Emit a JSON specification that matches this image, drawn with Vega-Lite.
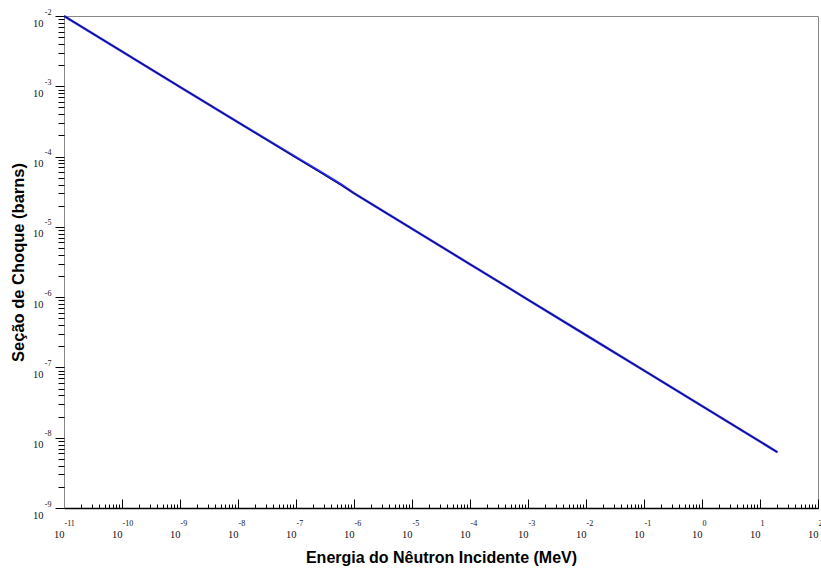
{
  "$schema": "https://vega.github.io/schema/vega-lite/v6.json",
  "autosize": "none",
  "width": 754,
  "height": 492,
  "padding": {"left": 64, "top": 16, "right": 3, "bottom": 65},
  "background": "white",
  "config": {
    "view": {"stroke": "#888888", "strokeWidth": 1},
    "axis": {"grid": false, "labelFont": "Liberation Serif", "titleFont": "Liberation Sans", "labelColor": "#111111", "tickColor": "#000000"}
  },
  "datasets": {
    "blue": [
      {"E": 1e-11, "sigma": 1e-2},
      {"E": 1e-10, "sigma": 3.13e-3},
      {"E": 1e-9, "sigma": 9.79e-4},
      {"E": 1e-8, "sigma": 3.07e-4},
      {"E": 1e-7, "sigma": 9.8e-5},
      {"E": 3e-7, "sigma": 5.7e-5},
      {"E": 6e-7, "sigma": 4.0e-5},
      {"E": 1e-6, "sigma": 3.0e-5},
      {"E": 1e-5, "sigma": 9.4e-6},
      {"E": 1e-4, "sigma": 2.94e-6},
      {"E": 1e-3, "sigma": 9.2e-7},
      {"E": 1e-2, "sigma": 2.88e-7},
      {"E": 1e-1, "sigma": 9.02e-8},
      {"E": 1, "sigma": 2.82e-8},
      {"E": 10, "sigma": 8.83e-9},
      {"E": 20, "sigma": 6.22e-9}
    ],
    "black": [
      {"E": 1e-11, "sigma": 1e-2},
      {"E": 1e-10, "sigma": 3.13e-3},
      {"E": 1e-9, "sigma": 9.79e-4},
      {"E": 1e-8, "sigma": 3.07e-4},
      {"E": 1e-7, "sigma": 9.59e-5},
      {"E": 1e-6, "sigma": 3.0e-5},
      {"E": 1e-5, "sigma": 9.4e-6},
      {"E": 1e-4, "sigma": 2.94e-6},
      {"E": 1e-3, "sigma": 9.2e-7},
      {"E": 1e-2, "sigma": 2.88e-7},
      {"E": 1e-1, "sigma": 9.02e-8},
      {"E": 1, "sigma": 2.82e-8},
      {"E": 10, "sigma": 8.83e-9},
      {"E": 20, "sigma": 6.22e-9}
    ]
  },
  "layer": [
    {
      "data": {"name": "blue"},
      "mark": {"type": "line", "color": "#2a2aff", "strokeWidth": 2.4},
      "encoding": {
        "x": {
          "field": "E", "type": "quantitative",
          "scale": {"type": "log", "domain": [1e-11, 100], "nice": false},
          "axis": {
            "orient": "bottom",
            "values": [1e-11, 1e-10, 1e-9, 1e-8, 1e-7, 1e-6, 1e-5, 1e-4, 1e-3, 1e-2, 1e-1, 1, 10, 100],
            "labelExpr": "'10'",
            "labelAlign": "right", "labelBaseline": "top", "labelDx": -1,
            "labelFontSize": 10.5, "labelPadding": 30, "labelFlush": false, "labelOverlap": false,
            "tickSize": -9, "tickWidth": 1,
            "domainColor": "#000000", "domainWidth": 1.5,
            "title": "Energia do Nêutron Incidente (MeV)",
            "titleFontSize": 16, "titleFontWeight": "bold", "titleColor": "#000000", "titlePadding": 10
          }
        },
        "y": {
          "field": "sigma", "type": "quantitative",
          "scale": {"type": "log", "domain": [1e-9, 1e-2], "nice": false},
          "axis": {
            "orient": "left",
            "values": [1e-9, 1e-8, 1e-7, 1e-6, 1e-5, 1e-4, 1e-3, 1e-2],
            "labelExpr": "'10'",
            "labelAlign": "right", "labelBaseline": "middle", "labelOffset": 7,
            "labelFontSize": 10.5, "labelPadding": 12, "labelFlush": false, "labelOverlap": false,
            "tickSize": 9, "tickWidth": 1,
            "domainColor": "#888888", "domainWidth": 1,
            "title": "Seção de Choque (barns)",
            "titleFontSize": 16.5, "titleFontWeight": "bold", "titleColor": "#000000", "titlePadding": 6
          }
        }
      }
    },
    {
      "data": {"name": "black"},
      "mark": {"type": "line", "color": "#000020", "strokeWidth": 1, "opacity": 0.75},
      "encoding": {
        "x": {
          "field": "E", "type": "quantitative",
          "scale": {"type": "log", "domain": [1e-11, 100], "nice": false},
          "axis": {"orient": "bottom", "tickCount": 50, "labels": false, "domain": false, "tickSize": -4, "title": null}
        },
        "y": {
          "field": "sigma", "type": "quantitative",
          "scale": {"type": "log", "domain": [1e-9, 1e-2], "nice": false},
          "axis": {"orient": "left", "tickCount": 50, "labels": false, "domain": false, "tickSize": 6, "title": null}
        }
      }
    },
    {
      "data": {"name": "black"},
      "mark": {"type": "line", "opacity": 0},
      "encoding": {
        "x": {
          "field": "E", "type": "quantitative",
          "scale": {"type": "log", "domain": [1e-11, 100], "nice": false},
          "axis": {
            "orient": "bottom",
            "values": [1e-11, 1e-10, 1e-9, 1e-8, 1e-7, 1e-6, 1e-5, 1e-4, 1e-3, 1e-2, 1e-1, 1, 10, 100],
            "labelExpr": "'' + round(log(datum.value) / LN10)",
            "labelAlign": "left", "labelBaseline": "top",
            "labelFontSize": 8, "labelPadding": 11, "labelFlush": false, "labelOverlap": false,
            "ticks": false, "tickSize": 0, "domain": false, "title": null
          }
        },
        "y": {
          "field": "sigma", "type": "quantitative",
          "scale": {"type": "log", "domain": [1e-9, 1e-2], "nice": false},
          "axis": {
            "orient": "left",
            "values": [1e-9, 1e-8, 1e-7, 1e-6, 1e-5, 1e-4, 1e-3, 1e-2],
            "labelExpr": "'' + round(log(datum.value) / LN10)",
            "labelAlign": "right", "labelBaseline": "middle", "labelOffset": -4,
            "labelFontSize": 8, "labelPadding": 13, "labelFlush": false, "labelOverlap": false,
            "ticks": false, "tickSize": 0, "domain": false, "title": null
          }
        }
      }
    }
  ],
  "resolve": {"axis": {"x": "independent", "y": "independent"}}
}
